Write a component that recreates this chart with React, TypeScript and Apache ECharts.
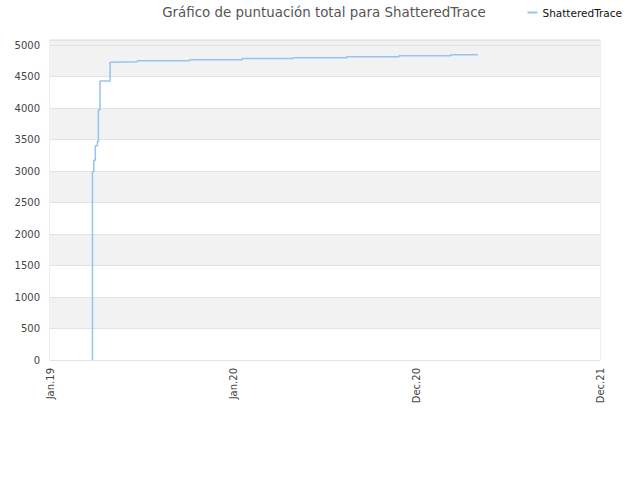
import { useEffect, useRef } from 'react';
import * as echarts from 'echarts';

// days since 2019-01-01 and total score at each step
const days = [82, 82, 84.5, 87.5, 91.5, 93.5, 96.5, 116, 118, 169, 270, 371, 469, 573, 674, 774, 826];
const scores = [0, 2990, 3170, 3400, 3465, 3970, 4430, 4725, 4735, 4751, 4767, 4786, 4798, 4814, 4830, 4846, 4846];
const xTickLabels = ['Jan.19', 'Jan.20', 'Dec.20', 'Dec.21'];
const X_STEP = 354;
const playerName = 'ShatteredTrace';

// band colours from the bottom up; the last one is the thin strip above 5000
const bandColors = ['#ffffff', '#f2f2f2', '#ffffff', '#f2f2f2', '#ffffff', '#f2f2f2', '#ffffff', '#f2f2f2', '#ffffff', '#f2f2f2', '#f2f2f2'];

export default function App() {
    const chartRef = useRef<HTMLDivElement>(null);

    useEffect(() => {
        if (!chartRef.current) return;
        const chart = echarts.init(chartRef.current, null, { renderer: 'svg' });
        const fontFamily = "'DejaVu Sans', sans-serif";

        chart.setOption({
            animation: false,
            backgroundColor: '#fff',
            title: {
                text: 'Gráfico de puntuación total para ' + playerName,
                left: 319,
                textAlign: 'center',
                top: 1,
                textStyle: { fontFamily, fontSize: 13.4, fontWeight: 'normal', color: '#555' }
            },
            legend: {
                right: 13,
                top: 2,
                icon: 'rect',
                itemWidth: 10,
                itemHeight: 2,
                itemGap: 8,
                textStyle: { fontFamily, fontSize: 10.5, color: '#111' },
                data: [playerName]
            },
            grid: {
                left: 50, right: 40, top: 40, bottom: 120,
                show: true,
                backgroundColor: '#f2f2f2',
                borderColor: '#dcdcdc',
                borderWidth: 1
            },
            xAxis: {
                type: 'value',
                min: 0,
                max: X_STEP * 3,
                interval: X_STEP,
                axisLine: { show: false },
                axisTick: { show: false },
                splitLine: { show: false },
                axisLabel: {
                    rotate: 90,
                    margin: 8,
                    fontFamily,
                    fontSize: 10,
                    color: '#444',
                    formatter: (v: number) => xTickLabels[Math.round(v / X_STEP)] ?? ''
                }
            },
            yAxis: {
                type: 'value',
                min: 0,
                max: 5080,
                interval: 500,
                axisLine: { show: false },
                axisTick: { show: false },
                axisLabel: { fontFamily, fontSize: 10, color: '#444', margin: 10, formatter: (v: number) => String(v) },
                splitLine: { show: true, lineStyle: { color: '#e2e2e2', width: 1 } },
                splitArea: { show: true, areaStyle: { color: bandColors } }
            },
            series: [
                {
                    name: playerName,
                    type: 'line',
                    step: 'end',
                    symbol: 'none',
                    data: days.map((d, i) => [d, scores[i]]),
                    lineStyle: { color: '#95c3f2', width: 1.5 },
                    itemStyle: { color: '#95c3f2' }
                }
            ]
        });

        return () => chart.dispose();
    }, []);

    return <div ref={chartRef} style={{ position: 'fixed', left: 0, top: 0, width: 640, height: 480 }} />;
}
